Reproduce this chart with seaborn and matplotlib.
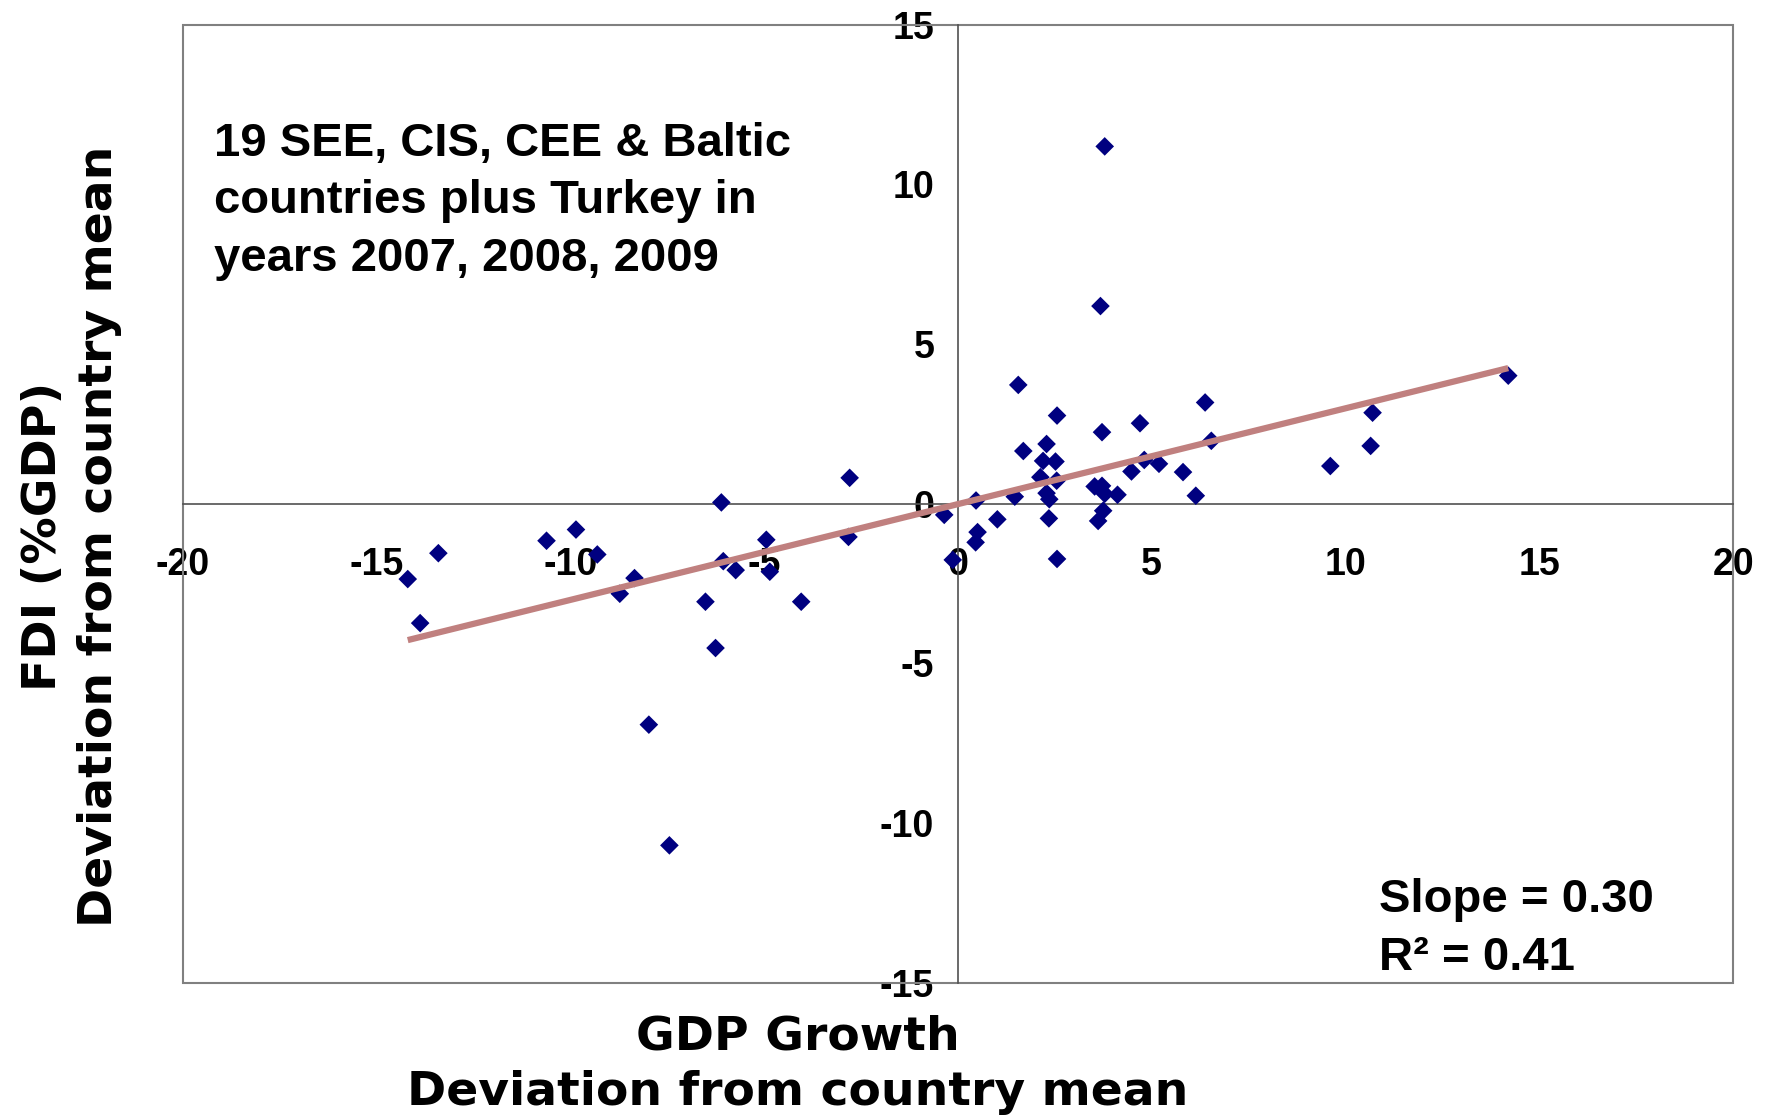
import numpy as np
import pandas as pd
import matplotlib
matplotlib.use("Agg")
import matplotlib.pyplot as plt
import seaborn as sns
from matplotlib.patches import Rectangle

# GDP growth deviation (x) and FDI %GDP deviation (y), 20 countries x 3 years
gdp_dev = [-14.19, -13.87, -13.40, -10.61, -9.85, -9.30, -8.72, -8.34, -7.97, -7.44,
           -6.51, -6.25, -6.10, -6.05, -5.73, -4.94, -4.85, -4.04, -2.79, -2.82,
           -0.13, 1.56, 2.56, 1.69, 2.29, 2.20, 2.52, 2.13, 2.55, 2.29,
           2.36, 1.47, 0.47, -0.35, 1.02, 2.35, 0.51, 0.46, 2.56, 3.72,
           4.70, 6.38, 6.54, 4.81, 5.19, 4.48, 5.81, 6.14, 3.53, 3.72,
           3.79, 4.12, 3.75, 3.62, 10.70, 10.65, 9.61, 14.20, 3.79, 3.68]
fdi_dev = [-2.36, -3.74, -1.55, -1.16, -0.81, -1.59, -2.82, -2.33, -6.92, -10.70,
           -3.07, -4.52, 0.04, -1.80, -2.08, -1.13, -2.13, -3.07, 0.81, -1.04,
           -1.76, 3.72, 2.76, 1.65, 1.87, 1.34, 1.32, 0.83, 0.72, 0.33,
           0.14, 0.22, 0.10, -0.35, -0.49, -0.46, -0.89, -1.21, -1.73, 2.24,
           2.52, 3.17, 1.97, 1.37, 1.25, 1.01, 0.99, 0.25, 0.54, 0.56,
           0.31, 0.28, -0.22, -0.54, 2.85, 1.81, 1.18, 4.01, 11.19, 6.19]

x_ticks = [-20, -15, -10, -5, 0, 5, 10, 15, 20]
y_ticks = [-15, -10, -5, 0, 5, 10, 15]

df = pd.DataFrame({"gdp": gdp_dev, "fdi": fdi_dev})

sns.set_style("white")
plt.rcParams['font.family'] = ['Liberation Sans', 'DejaVu Sans']
plt.rcParams['axes.unicode_minus'] = False
plt.rcParams['text.color'] = 'black'
plt.rcParams['xtick.color'] = 'black'
plt.rcParams['ytick.color'] = 'black'

fig = plt.figure(figsize=(17.67, 11.15), dpi=100)
ax = fig.add_axes([0.1033, 0.1187, 0.8775, 0.8591])

sns.scatterplot(data=df, x="gdp", y="fdi", marker="D", s=90, color="#000080",
                edgecolor="none", ax=ax, zorder=3)
sns.regplot(data=df, x="gdp", y="fdi", ci=None, scatter=False, color="#C0807F",
            line_kws={"lw": 4.5, "zorder": 4, "solid_capstyle": "butt"}, ax=ax)

ax.set_xlim(-20, 20)
ax.set_ylim(-15, 15)
ax.set_xticks(x_ticks)
ax.set_yticks(y_ticks)
ax.set_xlabel("")
ax.set_ylabel("")

for s in ["top", "right"]:
    ax.spines[s].set_visible(False)
ax.spines["left"].set_position(("data", 0))
ax.spines["bottom"].set_position(("data", 0))
for s in ["left", "bottom"]:
    ax.spines[s].set_color("#505050")
    ax.spines[s].set_linewidth(1.2)
    ax.spines[s].set_zorder(2)

ax.add_patch(Rectangle((0, 0), 1, 1, transform=ax.transAxes, fill=False,
                       edgecolor="#808080", lw=1.5, clip_on=False, zorder=1))

ax.tick_params(axis="both", direction="out", length=9, width=1.2, color="#505050",
               labelcolor="black", labelsize=27)
ax.tick_params(axis="x", pad=22)
ax.tick_params(axis="y", pad=8)
for lab in ax.get_xticklabels() + ax.get_yticklabels():
    lab.set_fontweight("bold")

fig.text(0.1211, 0.891, "19 SEE, CIS, CEE & Baltic\ncountries plus Turkey in\nyears 2007, 2008, 2009",
         fontsize=34, fontweight="bold", va="top", ha="left", linespacing=1.41,
         color="black")
fig.text(0.7807, 0.213, "Slope = 0.30\nR\u00b2 = 0.41", fontsize=34, fontweight="bold",
         va="top", ha="left", linespacing=1.42, color="black")

fig.text(0.4516, 0.0, "GDP Growth\nDeviation from country mean", fontsize=34,
         fontweight="bold", family="DejaVu Sans", ha="center", va="bottom",
         multialignment="center", linespacing=1.3, color="black")
fig.text(0.0405, 0.5188, "FDI (%GDP)\nDeviation from country mean", fontsize=34,
         fontweight="bold", family="DejaVu Sans", ha="center", va="center",
         rotation=90, multialignment="center", linespacing=1.32, color="black")

fig.savefig("out.png", dpi=100)
